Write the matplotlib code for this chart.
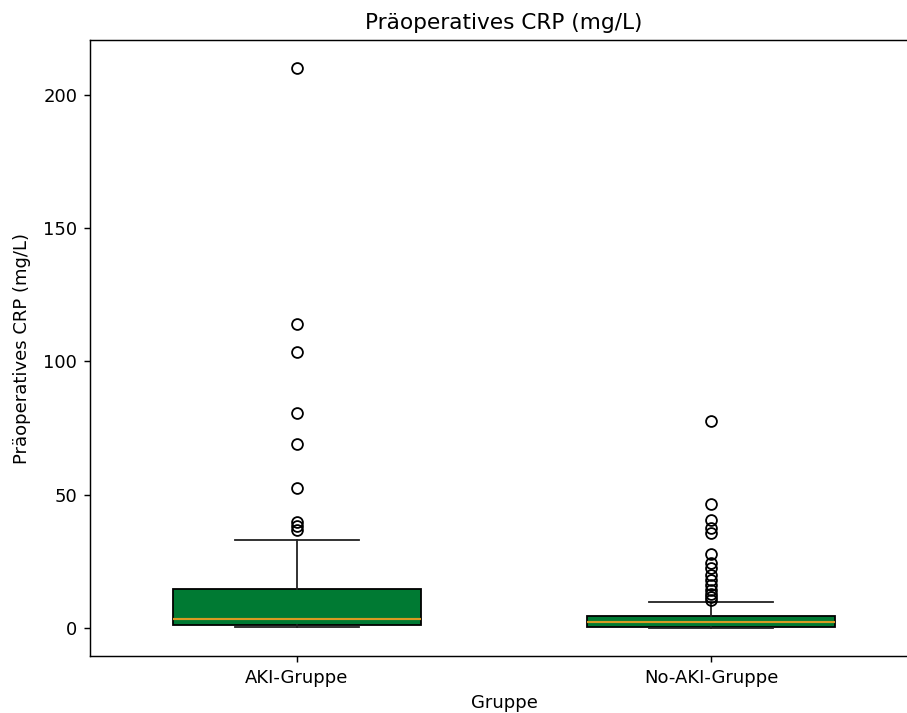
import matplotlib
matplotlib.use("Agg")
import matplotlib.pyplot as plt

# Gruppen und Boxplot-Kennwerte
groups = ["AKI-Gruppe", "No-AKI-Gruppe"]
q1 = [1.1, 0.5]
median = [3.3, 2.3]
q3 = [14.6, 4.6]
whisker_low = [0.3, 0.1]
whisker_high = [33.0, 9.8]
fliers = [
    [210.0, 114.0, 103.5, 80.5, 69.0, 52.5, 40.0, 38.2, 36.8],
    [77.7, 46.7, 40.5, 37.4, 35.8, 28.0, 24.4, 22.5, 20.0, 18.0,
     16.1, 14.3, 12.8, 11.6, 10.5],
]

stats = []
for i, name in enumerate(groups):
    stats.append({
        "label": name,
        "q1": q1[i],
        "med": median[i],
        "q3": q3[i],
        "whislo": whisker_low[i],
        "whishi": whisker_high[i],
        "fliers": fliers[i],
    })

fig = plt.figure(figsize=(907 / 130, 713 / 130), dpi=130)
ax = fig.add_axes([90 / 907, 57 / 713, 828 / 907, 616 / 713])

bp = ax.bxp(stats, positions=[0, 1], widths=0.6, patch_artist=True,
            boxprops=dict(facecolor="#007a33", edgecolor="black"),
            whiskerprops=dict(color="#222222"),
            capprops=dict(color="#222222"),
            medianprops=dict(color="#d89a22", linewidth=1.2),
            flierprops=dict(marker="o", markerfacecolor="none",
                            markeredgecolor="black", markersize=6))

ax.set_xlim(-0.5, 1.5)
ax.set_xticks([0, 1])
ax.set_xticklabels(groups)
# Bild ist rechts abgeschnitten: rechte Achsenlinie nicht sichtbar
ax.spines["right"].set_visible(False)
ax.set_title("Präoperatives CRP (mg/L)")
ax.set_xlabel("Gruppe")
ax.set_ylabel("Präoperatives CRP (mg/L)", labelpad=6.5)

fig.savefig("out.png", dpi=130)
